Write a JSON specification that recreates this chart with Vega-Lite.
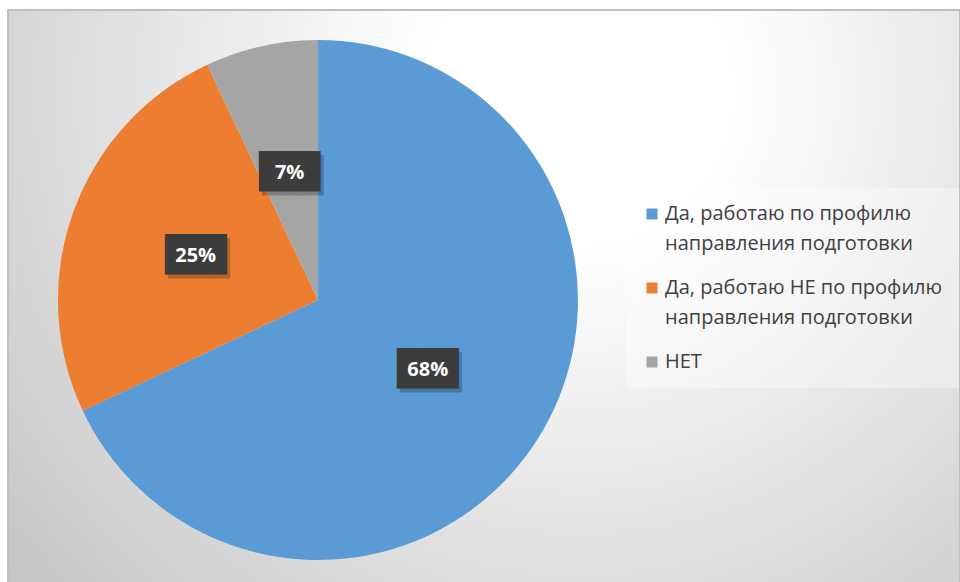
{
  "$schema": "https://vega.github.io/schema/vega-lite/v6.json",
  "autosize": {"type": "none"},
  "padding": {"left": 8, "top": 10, "right": 0, "bottom": 0},
  "width": 952,
  "height": 580,
  "background": "#ffffff",
  "config": {
    "view": {
      "fill": {
        "gradient": "radial",
        "x1": 0.6, "y1": 0.28, "r1": 0,
        "x2": 0.6, "y2": 0.28, "r2": 0.82,
        "stops": [
          {"offset": 0, "color": "#ffffff"},
          {"offset": 0.2, "color": "#ffffff"},
          {"offset": 1, "color": "#c2c2c2"}
        ]
      },
      "stroke": "#bfbfbf",
      "strokeWidth": 2
    },
    "legend": {
      "orient": "none",
      "legendX": 618,
      "legendY": 178,
      "padding": 16,
      "fillColor": "rgba(255,255,255,0.35)",
      "symbolType": "square",
      "symbolSize": 121,
      "symbolStrokeWidth": 0,
      "symbolOpacity": 1,
      "labelFont": "Open Sans",
      "labelFontSize": 20,
      "labelColor": "#404040",
      "labelLimit": 400,
      "labelOffset": 3,
      "rowPadding": 24
    }
  },
  "data": {
    "values": [
      {"category": " Да, работаю по профилю направления подготовки", "share": 0.68},
      {"category": "Да, работаю НЕ по профилю направления подготовки", "share": 0.25},
      {"category": "НЕТ", "share": 0.07}
    ]
  },
  "encoding": {
    "x": {"datum": 0.3256, "type": "quantitative", "scale": {"domain": [0, 1]}, "axis": null},
    "theta": {"field": "share", "type": "quantitative", "stack": true},
    "order": {"field": "category", "type": "nominal", "sort": "ascending"}
  },
  "layer": [
    {
      "mark": {"type": "arc", "outerRadius": 260},
      "encoding": {
        "color": {
          "field": "category",
          "type": "nominal",
          "scale": {
            "domain": [" Да, работаю по профилю направления подготовки", "Да, работаю НЕ по профилю направления подготовки", "НЕТ"],
            "range": ["#5B9BD5", "#ED7D31", "#A5A5A5"]
          },
          "legend": {
            "title": null,
            "labelExpr": "split(replace(datum.label, ' направления', '|направления'), '|')",
            "encode": {"labels": {"update": {"lineHeight": {"value": 30}}}}
          }
        }
      }
    },
    {
      "mark": {"type": "text", "radius": 130, "font": "DejaVu Sans Mono", "fontSize": 34, "text": "███", "color": "#000000", "opacity": 0.22, "dx": 3, "dy": 4},
      "encoding": {"detail": {"field": "category", "type": "nominal"}}
    },
    {
      "mark": {"type": "text", "radius": 130, "font": "DejaVu Sans Mono", "fontSize": 34, "text": "███", "color": "#3c3c3c"},
      "encoding": {"detail": {"field": "category", "type": "nominal"}}
    },
    {
      "mark": {"type": "text", "radius": 130, "font": "Open Sans", "fontSize": 20, "fontWeight": "bold", "color": "#ffffff"},
      "encoding": {
        "detail": {"field": "category", "type": "nominal"},
        "text": {"field": "share", "type": "quantitative", "format": ".0%"}
      }
    }
  ]
}
